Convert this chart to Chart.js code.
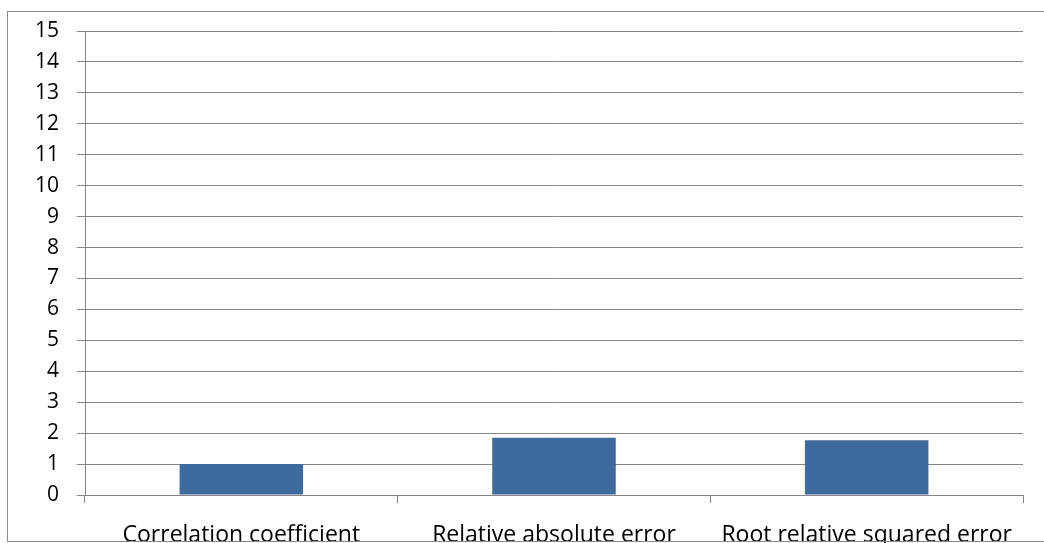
<!DOCTYPE html>
<html>
<head>
<meta charset="utf-8">
<script src="https://cdn.jsdelivr.net/npm/chart.js@4/dist/chart.umd.min.js"></script>
<style>
  html, body { margin: 0; padding: 0; background: #ffffff; overflow: hidden; }
  #wrap { position: relative; width: 1044px; height: 543px; }
</style>
</head>
<body>
<div id="wrap"><canvas id="c" width="1044" height="543"></canvas></div>
<script>
// Error metrics of the model
const categories = ['Correlation coefficient', 'Relative absolute error', 'Root relative squared error'];
const metricValues = [1.0, 1.85, 1.77];
const yTickMin = 0;
const yTickMax = 15;
const yTickStep = 1;

const gridGrey = '#878787';
const fontFamily = '"Open Sans", "Liberation Sans", Arial, sans-serif';

// Outer frame around the whole chart area
const framePlugin = {
  id: 'frame',
  beforeDraw(chart) {
    const ctx = chart.ctx;
    ctx.save();
    ctx.fillStyle = '#ffffff';
    ctx.fillRect(0, 0, chart.width, chart.height);
    ctx.restore();
  },
  afterDraw(chart) {
    const ctx = chart.ctx;
    ctx.save();
    ctx.strokeStyle = '#8a8a8a';
    ctx.lineWidth = 1;
    ctx.strokeRect(7.5, 11.5, chart.width + 10, 530);
    ctx.restore();
  }
};

new Chart(document.getElementById('c'), {
  type: 'bar',
  data: {
    labels: categories,
    datasets: [{
      data: metricValues,
      backgroundColor: '#3E6A9C',
      borderWidth: 0,
      categoryPercentage: 1.0,
      barPercentage: 0.395
    }]
  },
  options: {
    responsive: false,
    animation: false,
    devicePixelRatio: 1,
    layout: { padding: { top: 31, right: 21, bottom: 0, left: 0 } },
    plugins: {
      legend: { display: false },
      tooltip: { enabled: false }
    },
    scales: {
      x: {
        offset: true,
        afterFit(scale) { scale.height = 48; },
        grid: {
          display: true,
          offset: true,
          drawOnChartArea: false,
          drawTicks: true,
          tickLength: 8,
          color: gridGrey,
          lineWidth: 1
        },
        border: { display: true, color: gridGrey, width: 1 },
        ticks: {
          padding: 19,
          maxRotation: 0,
          autoSkip: false,
          color: '#000000',
          font: { family: fontFamily, size: 23 }
        }
      },
      y: {
        min: yTickMin,
        max: yTickMax,
        afterFit(scale) { scale.width = 85; },
        grid: {
          color: gridGrey,
          lineWidth: 1,
          drawTicks: true,
          tickLength: 8
        },
        border: { display: true, color: gridGrey, width: 1 },
        ticks: {
          stepSize: yTickStep,
          padding: 18,
          color: '#000000',
          font: { family: fontFamily, size: 21 }
        }
      }
    }
  },
  plugins: [framePlugin]
});
</script>
</body>
</html>
